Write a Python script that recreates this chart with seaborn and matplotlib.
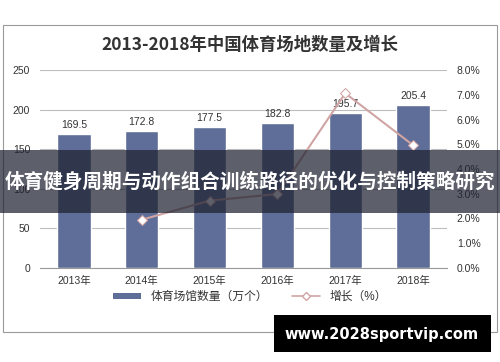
import numpy as np
import matplotlib
matplotlib.use('Agg')
import matplotlib.pyplot as plt
import seaborn as sns
from matplotlib.patches import Rectangle, Patch
from matplotlib.lines import Line2D
from matplotlib.ticker import FuncFormatter, MultipleLocator

# data
years = ['2013年', '2014年', '2015年', '2016年', '2017年', '2018年']
venues = [169.5, 172.8, 177.5, 182.8, 195.7, 205.4]
growth_years = ['2014年', '2015年', '2016年', '2017年', '2018年']
growth = [1.95, 2.72, 2.99, 7.06, 4.96]

title = '2013-2018年中国体育场地数量及增长'
banner = '体育健身周期与动作组合训练路径的优化与控制策略研究'
watermark = 'www.2028sportvip.com'

sns.set_theme(style='white')
plt.rcParams['font.family'] = ['Liberation Sans', 'Noto Sans CJK SC', 'DejaVu Sans']

bar_color = '#5f6e98'
line_color = '#d0a4a4'

fig = plt.figure(figsize=(5, 3.62), dpi=100)
W, H = 500, 362

def fx(px):
    return px / W

def fy(py):
    return 1 - py / H

# outer chart frame
fig.patches.append(Rectangle((fx(3), fy(332)), fx(494), 307 / H, transform=fig.transFigure,
                             fill=False, edgecolor='#9a9a9a', linewidth=0.8))

ax = fig.add_axes([fx(40), fy(268), fx(407), (268 - 70) / H])
sns.barplot(x=years, y=venues, color=bar_color, width=0.49, saturation=1, ax=ax, zorder=3)
ax.set_ylim(0, 250)
ax.set_yticks(np.arange(0, 251, 50))
ax.grid(axis='y', color='#bdbdbd', linewidth=0.8, zorder=0)
for s in ['left', 'right', 'top']:
    ax.spines[s].set_visible(False)
ax.spines['bottom'].set_color('#9a9a9a')
ax.spines['bottom'].set_linewidth(0.8)
ax.tick_params(axis='y', labelsize=7.5, colors='#333333', length=0, pad=7)
ax.tick_params(axis='x', labelsize=7.5, colors='#333333', length=0, pad=6)
ax.set_xlim(-0.5, len(years) - 0.5)
# category boundary ticks
ax.set_xticks(np.arange(-0.5, len(years), 1), minor=True)
ax.tick_params(axis='x', which='minor', length=3, color='#9a9a9a', width=0.8)
ax.set_xlabel('')
ax.set_ylabel('')
for i, v in enumerate(venues):
    ax.text(i, v + 5, f'{v:.1f}', ha='center', va='bottom', fontsize=7.5, color='#333333', zorder=4)

ax2 = ax.twinx()
xpos = [years.index(y) for y in growth_years]
sns.lineplot(x=xpos, y=growth, ax=ax2, color=line_color, linewidth=1.5, marker='D',
             markersize=5, markerfacecolor='white', markeredgecolor=line_color, zorder=5)
ax2.set_ylim(0, 8)
ax2.yaxis.set_major_locator(MultipleLocator(1))
ax2.yaxis.set_major_formatter(FuncFormatter(lambda v, p: f'{v:.1f}%'))
ax2.tick_params(axis='y', labelsize=7.5, colors='#333333', length=0, pad=7)
for s in ['left', 'right', 'top', 'bottom']:
    ax2.spines[s].set_visible(False)
ax2.set_ylabel('')
ax2.grid(False)

fig.text(0.5, fy(45), title, ha='center', va='center', fontsize=12.5, fontweight='bold',
         color='#333333', family=['Noto Sans CJK SC'])

handles = [Patch(facecolor=bar_color, edgecolor='none'),
           Line2D([], [], color=line_color, marker='D', markerfacecolor='white',
                  markeredgecolor=line_color, markersize=4, linewidth=1.2)]
fig.legend(handles, ['体育场馆数量（万个）', '增长（%）'], loc='center', bbox_to_anchor=(0.5, fy(297)),
           ncol=2, frameon=False, fontsize=8.5, handlelength=2.4, handleheight=0.45,
           columnspacing=2.0, labelcolor='#333333')

# dark banner with headline
fig.patches.append(Rectangle((0, fy(213)), 1, 63 / H, transform=fig.transFigure,
                             facecolor='#1e2230', alpha=0.72, edgecolor='none', zorder=10))
fig.text(0.5, fy(182), banner, ha='center', va='center', fontsize=14.1, fontweight='bold',
         color='white', family=['Noto Sans CJK SC'], zorder=11)

# watermark box
fig.patches.append(Rectangle((fx(274), fy(352)), fx(217), 37 / H, transform=fig.transFigure,
                             facecolor='black', edgecolor='none', zorder=10))
fig.text(fx(382), fy(334), watermark, ha='center', va='center', fontsize=10.5, fontweight='bold',
         color='white', family=['DejaVu Sans'], zorder=11)

fig.savefig('out.png', dpi=100)
